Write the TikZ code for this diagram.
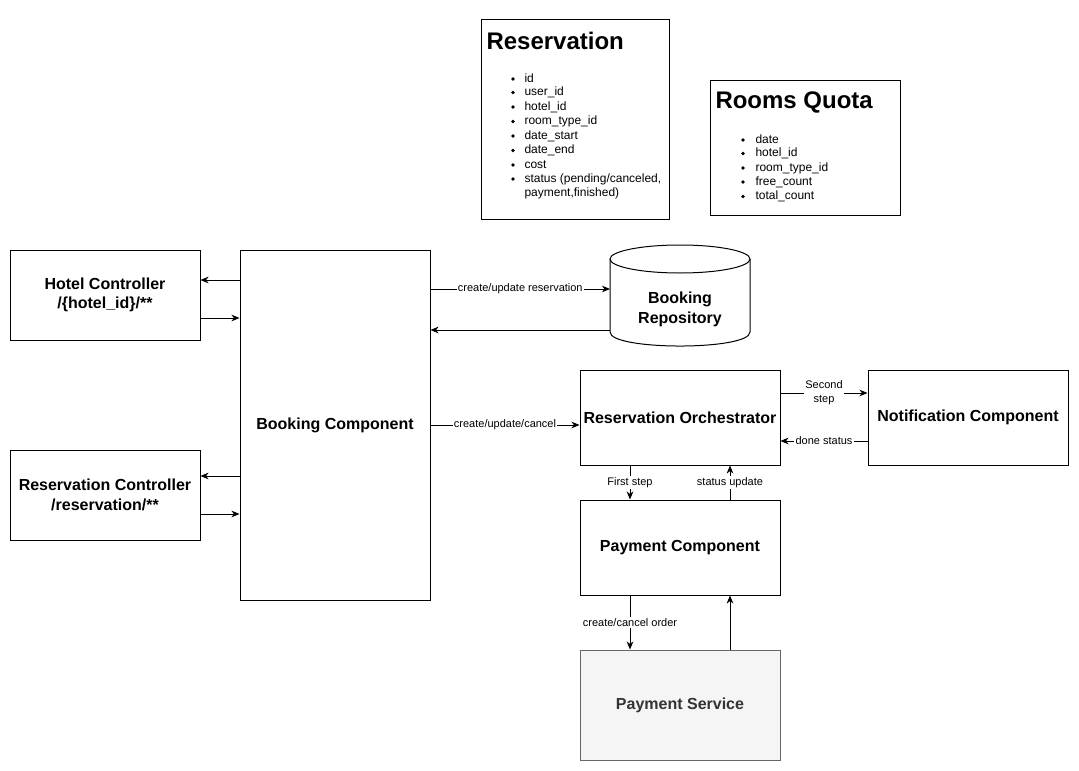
\documentclass[tikz,border=0pt]{standalone}
\usepackage{fontspec}
\setmainfont{Liberation Sans}
\usetikzlibrary{arrows.meta}
\definecolor{psfill}{HTML}{F5F5F5}
\definecolor{psdraw}{HTML}{666666}
\definecolor{pstext}{HTML}{333333}
\begin{document}
\begin{tikzpicture}[x=0.75pt,y=-0.75pt,line width=0.75pt,
  box/.style={draw,inner sep=0pt,align=center,font=\bfseries\fontsize{12}{14.5}\selectfont},
  ctlbox/.style={box,minimum width=142.5pt,minimum height=67.5pt},
  midbox/.style={box,minimum width=150pt,minimum height=71.25pt},
  arr/.style={-{Stealth[length=6pt,width=5pt,inset=1.8pt]}},
  lbl/.style={fill=white,inner sep=1pt,align=center,font=\fontsize{8.25}{10.5}\selectfont},
  item/.style={anchor=west,inner sep=0pt,text height=6.6pt,text depth=1.9pt,font=\fontsize{9}{11}\selectfont},
  ttl/.style={anchor=west,inner sep=0pt,font=\bfseries\fontsize{18}{21}\selectfont}]
\useasboundingbox (0,0) rectangle (1079,771);

% entity boxes
\node[draw,inner sep=0pt,minimum width=141pt,minimum height=150pt] (resbox) at (575,119) {};
\node[ttl] (restitle) at (486,41) {Reservation};
\foreach \t/\y [count=\i] in {id/79,user\_id/92.5,hotel\_id/107,room\_type\_id/121.5,date\_start/136,date\_end/150.5,cost/165}{
  \fill (513,\y) circle[radius=1.9];
  \node[item] (ri\i) at (524,\y) {\t};
}
\fill (513,179) circle[radius=1.9];
\node[item] (ri8) at (524,179) {status (pending/canceled,};
\node[item] (ri9) at (524,193.5) {payment,finished)};

\node[draw,inner sep=0pt,minimum width=142.5pt,minimum height=101.25pt] (qbox) at (805,147.5) {};
\node[ttl] (qtitle) at (715,102) {Rooms Quota};
\foreach \t/\y [count=\i] in {date/140,hotel\_id/153.5,room\_type\_id/168,free\_count/182,total\_count/196.5}{
  \fill (743,\y) circle[radius=1.9];
  \node[item] (qi\i) at (755,\y) {\t};
}

% main boxes
\node[ctlbox] (hc) at (105,295) {Hotel Controller\\/\{hotel\_id\}/**};
\node[ctlbox] (rc) at (105,495) {Reservation Controller\\/reservation/**};
\node[box,minimum width=142.5pt,minimum height=262.5pt] (bc) at (335,425) {Booking Component};
\node[midbox] (orch) at (680,417.5) {Reservation Orchestrator};
\node[midbox] (notif) at (968,417.5) {Notification Component};
\node[midbox] (pay) at (680,547.5) {Payment Component};
\node[box,minimum width=150pt,minimum height=82.5pt,draw=psdraw,fill=psfill,text=pstext] (ps) at (680,705) {Payment Service};

% cylinder
\draw[fill=white] (610,259) -- (610,332) .. controls (610,350.7) and (750,350.7) .. (750,332) -- (750,259);
\draw (680,259) ellipse [x radius=70,y radius=14];
\node[font=\bfseries\fontsize{12}{15}\selectfont,align=center,inner sep=0pt] (repo) at (680,309) {Booking\\Repository};
\coordinate (repoL) at (610,309);

% connectors
\draw[arr] (bc.west |- 0,280) -- (hc.east |- 0,280);
\draw[arr] (hc.east |- 0,318) -- (bc.west |- 0,318);
\draw[arr] (bc.west |- 0,476) -- (rc.east |- 0,476);
\draw[arr] (rc.east |- 0,514) -- (bc.west |- 0,514);

\draw[arr] (bc.east |- 0,289) -- node[lbl] {create/update reservation} (repoL |- 0,289);
\draw[arr] (repoL |- 0,330) -- (bc.east |- 0,330);
\draw[arr] (bc.east |- 0,425) -- node[lbl] {create/update/cancel} (orch.west |- 0,425);

\draw[arr] (orch.east |- 0,393) -- node[lbl] {Second\\step} (notif.west |- 0,393);
\draw[arr] (notif.west |- 0,441) -- node[lbl] {done status} (orch.east |- 0,441);

\draw[arr] (orch.south -| 630,0) -- node[lbl] {First step} (pay.north -| 630,0);
\draw[arr] (pay.north -| 730,0) -- node[lbl] {status update} (orch.south -| 730,0);

\draw[arr] (pay.south -| 630,0) -- node[lbl] {create/cancel order} (ps.north -| 630,0);
\draw[arr] (ps.north -| 730,0) -- (pay.south -| 730,0);
\end{tikzpicture}
\end{document}
